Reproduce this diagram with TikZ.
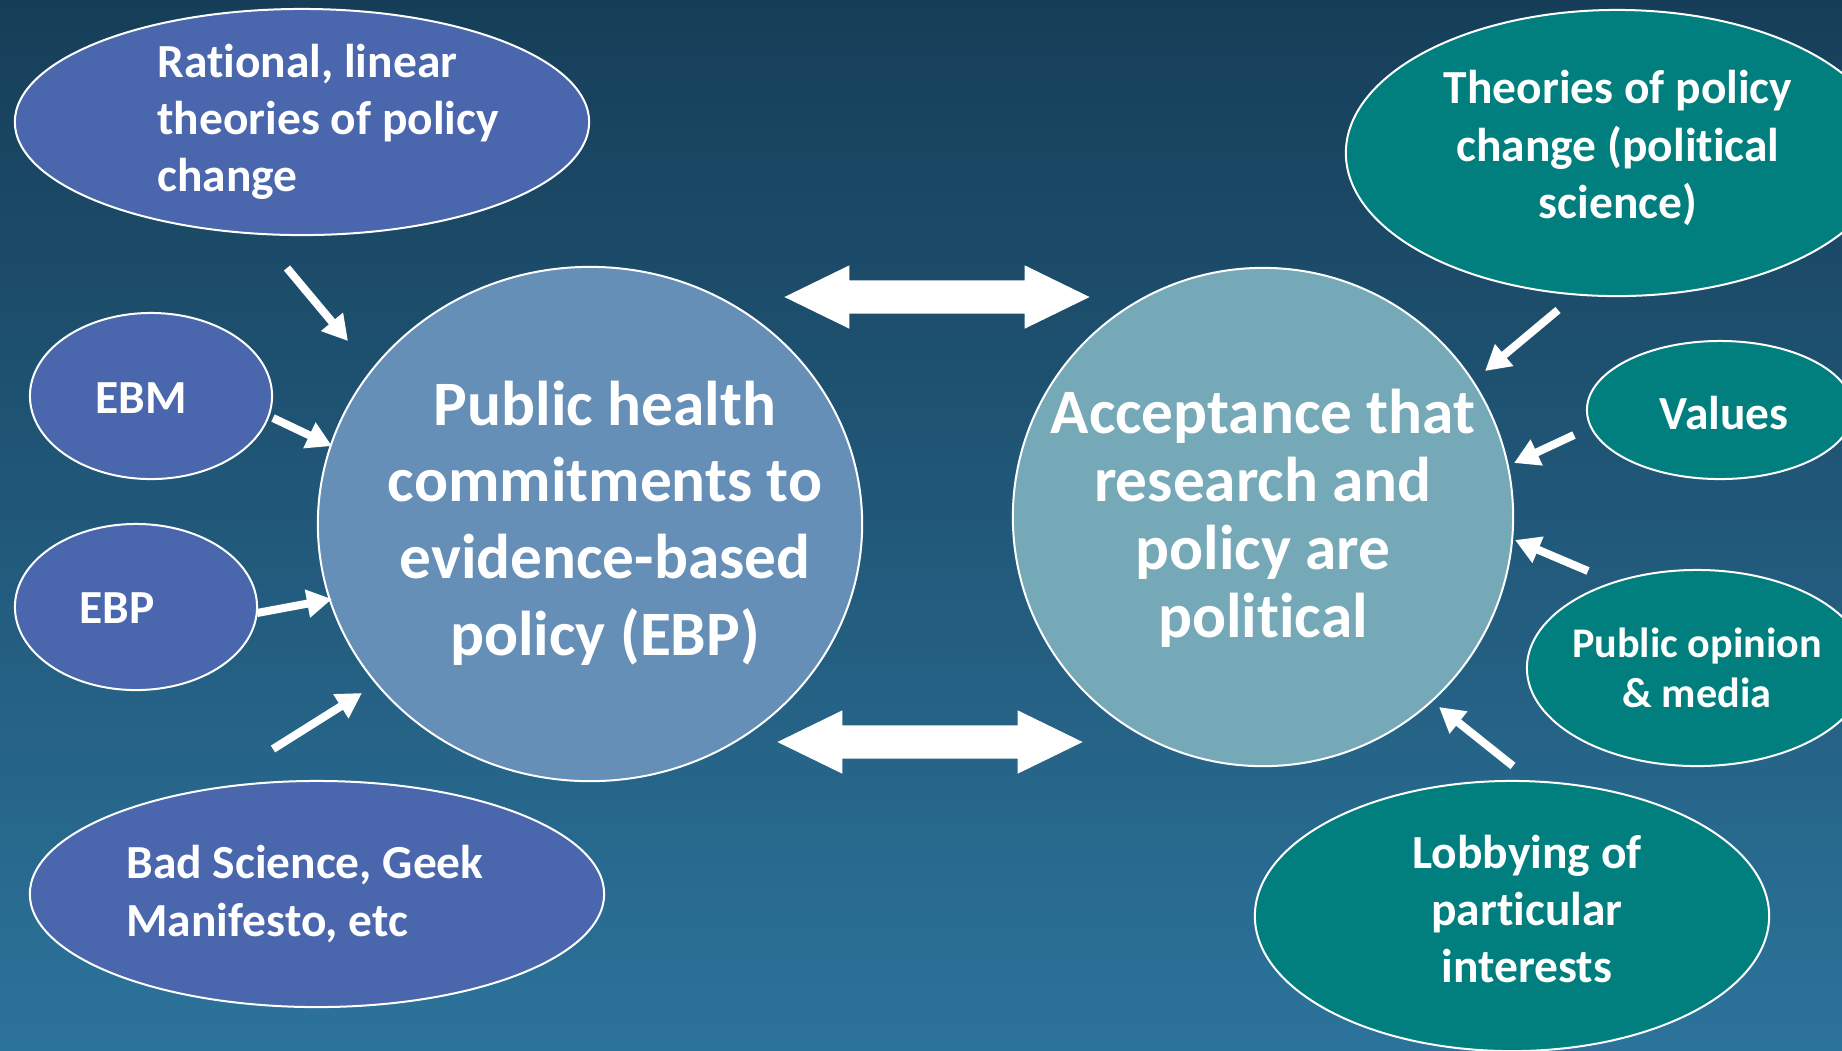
\documentclass[tikz,border=0pt]{standalone}
\usepackage{fontspec}
\setmainfont{Carlito}[RawFeature={-liga;-clig;-calt;-dlig}]
\usetikzlibrary{shapes.geometric}
\usetikzlibrary{shapes.arrows}
\usetikzlibrary{arrows.meta}
\definecolor{bgtop}{RGB}{22,62,88}
\definecolor{bgbot}{RGB}{44,115,155}
\definecolor{leftfill}{RGB}{74,103,173}
\definecolor{tealfill}{RGB}{0,127,126}
\definecolor{ebpfill}{RGB}{101,143,183}
\definecolor{polfill}{RGB}{118,169,184}
\tikzset{>={Triangle[length=0.25cm,width=0.27cm]}}
\tikzset{
  bubble/.style={ellipse,draw=white,line width=0.02cm,inner sep=0pt},
  leftbub/.style={bubble,fill=leftfill},
  tealbub/.style={bubble,fill=tealfill},
  bigtext/.style={text=white,align=center,font=\bfseries\fontsize{18}{21.8}\selectfont},
  smalltext/.style={text=white,font=\bfseries\fontsize{13.5}{16.3}\selectfont},
  feed/.style={->,white,line width=0.08cm},
  both/.style={double arrow,fill=white,inner xsep=0pt,inner ysep=0.16cm,
    double arrow head extend=0.15cm,double arrow tip angle=52,minimum height=3.05cm}
}

\begin{document}
\begin{tikzpicture}[x=0.01cm,y=-0.01cm]
    \shade [top color=bgtop, bottom color=bgbot] (0,0) rectangle (1842,1050);
    \useasboundingbox (0,0) rectangle (1842,1050);

    % the two central circles
    \node [bubble,fill=ebpfill,minimum width=5.44cm,minimum height=5.14cm] (ebp) at (590,524) {};
    \node [bigtext] (ebptext) at (605,523) {Public health\\commitments to\\evidence-based\\policy (EBP)};

    \node [bubble,fill=polfill,minimum width=5.0cm,minimum height=4.98cm] (pol) at (1263,517) {};
    \node [bigtext,font=\bfseries\fontsize{18}{19.3}\selectfont] (poltext) at (1263,518)
      {Acceptance that\\research and\\policy are\\political};

    \node [both] (toparrow) at (937,297) {};
    \node [both] (botarrow) at (930,742) {};

    % left side
    \node [leftbub,minimum width=5.74cm,minimum height=2.26cm] (rational) at (302,122) {};
    \node [smalltext,align=left] (rationaltext) at (328,122) {Rational, linear\\theories of policy\\change};

    \node [leftbub,minimum width=2.42cm,minimum height=1.66cm] (ebm) at (151,396) {};
    \node [smalltext] (ebmtext) at (141,398) {EBM};

    \node [leftbub,minimum width=2.42cm,minimum height=1.66cm] (ebpsmall) at (136,607) {};
    \node [smalltext] (ebpsmalltext) at (117,608) {EBP};

    \node [leftbub,minimum width=5.74cm,minimum height=2.26cm] (bad) at (317,894) {};
    \node [smalltext,align=left] (badtext) at (305,894) {Bad Science, Geek\\Manifesto, etc};

    % right side
    \node [tealbub,minimum width=5.42cm,minimum height=2.86cm] (theories) at (1617,153) {};
    \node [smalltext,align=center] (theoriestext) at (1618,148) {Theories of policy\\change (political\\science)};

    \node [tealbub,minimum width=2.66cm,minimum height=1.38cm] (values) at (1720,410) {};
    \node [smalltext] (valuestext) at (1724,413) {Values};

    \node [tealbub,minimum width=3.4cm,minimum height=1.96cm] (opinion) at (1697,668) {};
    \node [smalltext,align=center,font=\bfseries\fontsize{12}{14.3}\selectfont] (opiniontext) at (1697,668)
      {Public opinion\\\& media};

    \node [tealbub,minimum width=5.14cm,minimum height=2.7cm] (lobby) at (1512,916) {};
    \node [smalltext,align=center] (lobbytext) at (1527,909) {Lobbying of\\particular\\interests};

    % arrow ends
    \coordinate (a1) at (287,268);
    \coordinate (b1) at (348,341);
    \coordinate (a2) at (273,418);
    \coordinate (b2) at (332,446);
    \coordinate (a3) at (257,613);
    \coordinate (b3) at (332,599);
    \coordinate (a4) at (273,749);
    \coordinate (b4) at (362,693);
    \coordinate (a5) at (1558,310);
    \coordinate (b5) at (1485,371);
    \coordinate (a6) at (1574,435);
    \coordinate (b6) at (1514,463);
    \coordinate (a7) at (1588,571);
    \coordinate (b7) at (1515,540);
    \coordinate (a8) at (1513,766);
    \coordinate (b8) at (1439,707);

    \foreach \i in {1,...,8}
      \draw [feed] (a\i) -- (b\i);
\end{tikzpicture}
\end{document}
